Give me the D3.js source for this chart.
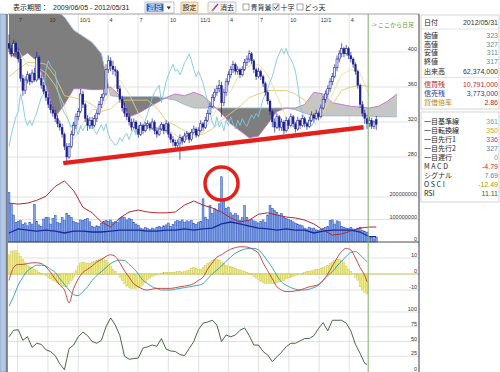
<!DOCTYPE html>
<html>
<head>
<meta charset="utf-8">
<script src="https://cdn.jsdelivr.net/npm/d3@7"></script>
<style>
body{margin:0;background:#fff;}
svg{display:block;font-family:"Liberation Sans","Noto Sans CJK JP",sans-serif;}
</style>
</head>
<body>
<svg id="chart" width="500" height="372"></svg>
<script>
// ---- data (weekly from 2009/06/05, last 4 rows daily) ----
var startDate = new Date(2009, 5, 5);
var tickDates = ["2009-07-01","2009-10-01","2010-01-01","2010-04-01","2010-07-01","2010-10-01",
                 "2011-01-01","2011-04-01","2011-07-01","2011-10-01","2012-01-01","2012-04-01"];
var tickLabels = ["7","10","10/1","4","7","10","11/1","4","7","10","12/1","4"];

// open, high, low, close
var ohlc = [
[410,420,400,404],[404,408,394,398],[398,414,396,410],[410,412,396,400],[400,404,388,392],
[392,394,366,370],[370,374,350,356],[356,372,352,368],[368,378,364,374],[374,376,362,366],
[366,380,364,376],[376,382,366,368],[368,400,366,394],[394,396,368,370],[370,374,358,362],
[362,366,352,355],[355,358,344,348],[348,352,336,340],[340,344,330,334],[334,338,326,330],
[330,334,320,324],[324,328,314,318],[318,322,310,314],[314,318,302,306],[306,308,288,292],
[292,296,274,280],[280,296,278,292],[292,310,290,306],[306,320,304,316],[316,330,312,326],
[326,336,322,332],[332,358,330,352],[352,356,336,340],[340,342,320,324],[324,328,310,316],
[316,326,312,322],[322,326,312,316],[316,328,314,324],[324,334,320,330],[330,344,328,340],
[340,352,336,348],[348,358,344,352],[352,386,350,380],[380,396,376,390],[390,394,378,384],
[384,390,374,380],[380,384,372,378],[378,380,354,358],[358,362,342,346],[346,350,332,336],
[336,342,326,330],[330,336,322,326],[326,330,316,320],[320,324,310,314],[314,324,312,320],
[320,322,308,312],[312,316,302,306],[306,320,304,316],[316,318,306,310],[310,320,308,316],
[316,322,312,318],[318,320,310,313],[313,324,311,320],[320,322,306,310],[310,314,302,306],
[306,316,304,312],[312,320,310,317],[317,318,306,310],[310,322,308,318],[318,320,302,306],
[306,308,296,300],[300,304,292,297],[297,300,288,293],[293,300,290,296],[296,306,277,302],
[302,304,294,298],[298,308,296,304],[304,310,300,307],[307,308,296,300],[300,312,298,308],
[308,316,306,312],[312,314,302,305],[305,314,303,310],[310,322,308,318],[318,320,310,314],
[314,326,312,322],[322,334,320,330],[330,342,328,338],[338,352,336,348],[348,358,344,354],
[354,362,350,358],[358,368,354,362],[362,366,326,342],[342,358,338,354],[354,370,350,366],
[366,378,362,374],[374,384,370,380],[380,390,376,386],[386,388,374,378],[378,384,374,380],
[380,382,370,374],[374,384,372,380],[380,392,378,388],[388,396,384,392],[392,402,388,398],
[398,400,386,390],[390,392,376,380],[380,382,368,372],[372,382,370,378],[378,380,368,372],
[372,374,360,364],[364,366,350,354],[354,356,340,344],[344,346,328,332],[332,334,314,320],
[320,324,308,314],[314,330,312,326],[326,328,310,314],[314,324,310,320],[320,322,306,310],
[310,326,308,322],[322,324,312,316],[316,330,314,326],[326,328,314,318],[318,320,308,312],
[312,326,310,322],[322,324,312,316],[316,328,314,324],[324,326,314,318],[318,320,311,315],
[315,326,313,322],[322,332,320,328],[328,330,320,324],[324,334,322,330],[330,332,322,326],
[326,340,324,336],[336,350,334,346],[346,356,342,352],[352,362,348,358],[358,370,354,366],
[366,376,362,372],[372,386,370,382],[382,396,378,392],[392,402,388,398],[398,410,394,404],
[404,406,394,398],[398,408,396,404],[404,406,392,396],[396,400,388,392],[392,394,382,386],
[386,388,374,378],[378,380,358,362],[362,364,336,340],[340,344,326,330],[330,334,318,324],
[324,328,312,318],
[318,326,314,322],[322,325,312,315],[315,322,312,320],[323,327,311,317]
];
var weeklyCount = 156;

// volume, millions of shares
var volume = [
220,170,120,88,92,95,78,85,72,88, 80,168,92,76,70,102,110,108,80,104,
118,88,84,110,96,126,118,110,92,86, 84,98,96,100,104,90,70,66,72,68,
84,92,96,92,98,86,90,88,104,112, 108,98,104,100,86,80,74,62,58,64,
60,56,62,58,66,70,64,72,76,84, 70,78,90,96,92,98,88,94,90,96,
82,78,86,92,192,110,100,162,128,148, 140,170,290,185,150,155,130,120,126,118,
96,108,162,110,96,100,94,90,84,92, 98,86,120,162,150,140,132,120,126,110,
104,100,96,90,84,80,76,72,62,58, 66,60,62,54,52,56,60,64,70,96,
98,80,94,90,70,66,62,60,64,58, 56,62,66,52,48,44,
18,22,14,20
];

// margin balances, millions of shares (every 4 weeks + last day)
var marginBuy = [28,27.3,28,30,33,40,44,37,25,21, 14.4,10.8,17.3,21.6,23,21.6,21,21,21.6,26.6,
                 29.5,26.6,24.5,21.6,17.3,14.4,15.8,20,21,19.4, 18,17.3,15.8,13,8.6,5,5.8,7.9,10,10.8, 10.79];
var marginSell = [6.5,9.4,8.6,7.9,8.6,7.9,6.5,7.9,7.9,7.2, 7.2,7.9,8.6,8.6,8.6,7.9,7.9,8.6,8.6,9.4,
                  8.6,9.4,10,13,14.4,13,11.5,10,9.4,8.6, 9.4,8.6,8.6,6.5,7.9,8.6,8.6,8.6,7.2,3.8, 3.77];

// ichimoku (every 4 weeks)
var tenkan = [395,402,385,383,376,362,338,300,318,334, 335,355,368,352,330,316,313,312,305,300,
              302,308,326,344,355,376,384,386,374,350, 325,320,320,322,330,352,374,380,376,350];
var kijun = [372,380,388,388,386,372,350,348,345,340, 332,335,345,345,345,345,336,322,316,310,
             305,306,312,322,330,338,348,352,356,356, 356,352,345,330,330,340,356,360,362,361];
// leading spans, already shifted forward
var senkouA = [398,392,399,390,362,326,340,358,358,357, 357,360,350,326,330,336,342,348,352,350,
               354,350,340,330,318,310,302,304,318,332, 336,336,340,354,352,342,340,338,337,336,
               338,344,352];
var senkouB = [450,450,452,452,450,448,440,425,418,411, 398,350,349,349,349,349,349,347,345,340,
               336,336,336,336,336,336,336,336,336,336, 336,334,330,327,327,327,327,327,327,327,
               326,326,326];

// MACD / signal / RSI (every 2 weeks + last week)
var macd = [-4,4,6,6,6.5,7,7,6.5,4.5,1, -3,-7,-10,-18,-9,-3,1,3,5,7.5,
            9,11,12,11,7,2,-2,-6,-8,-9.5, -10,-9.5,-9,-9,-9,-9,-8.5,-8,-7.5,-7,
            -6,-4,-2,3,7,10.5,12,14,15.5,16.5, 17,17,16.5,15,13,7,2,-3,-8,-10,
            -11,-11,-10.5,-10,-9,-8,-7.5,-6.5,-4,0, 5,10,14,16,15,10,4,-1,-4.79];
var signal = [-20,-14,-7,-2,2,4,5.5,5.5,5,3, 1,-3,-6.5,-10,-13,-13.5,-11,-8,-4,-1,
              1.5,4,6.5,8,8.7,8.5,6,3.5,0,-4, -6,-8,-9,-10,-10,-10,-9.5,-9,-8.5,-8,
              -7.5,-7,-6,-3,0,2.5,5,8,10.6,13, 14.5,15.5,16,16,15,12,8,4,-1,-5,
              -7,-8.5,-9.5,-10,-10,-9.5,-8.5,-7,-4,-1, 1.5,5,8,11,13.5,14,12,9,7.69];
var osci = [12,14,14.5,14.5,13,11,9,7,5.5, 4.5,4,3,2, 1,0.5,0,-1, -2,-3,-4,-4.5,
            -5.5,-6.5,-7.5,-8,-8, -6,-4,-2, 2,5,7,7.5,7, 6.5,6.5,7.5, 8,8.5,9,9.5,9.5,
            8.5,7,5,3, 1.5,0,-2, -4,-6,-7.5,-8.5,-9, -9,-9,-8.5,-8,-6.5, -5,-3.5,-2.5,-1.5,-1,
            -0.5,0,0.5,0.8,1,1,1, 1,1.2,1.5,1.5,1.2, 1.5,2,2.5,3.5,4, 3.5,3,3,4, 5.5,6.5,7.5,8.5,
            9,9,8.5,7.5, 6.5,5.5,5,4.5,4, 3.5,3,2.5,2,1.5, 1,0.5,-0.5,-1.5,-2.5, -3.5,-4.5,-5.5,-6,
            -6,-6,-6,-6,-5.5, -5,-4.5,-4,-3,-2.5, -2,-1.5,-1,-0.5,0, 0.5,1,1.5,1.5,2,
            2.5,3,3,3.5,4, 4.5,5.5,6.5,7.5,8.5, 9,9,8.5,7,5, 3,1.5,0,-2,-4, -8,-10,-11.5,-12.49];
var rsi = [58,69,70,52,58,40,47,45,36,33, 26,12,2,38,44,58,66,60,50,47,
           52,75,90,78,60,25,20,21,22,39, 41,44,42,55,37,34,33,28,26,38,
           50,70,81,83,86,78,50,61,58,61, 69,73,60,44,44,33,27,16,24,32,
           41,47,47,51,55,55,60,72,82,68, 86,86,86,81,68,45,30,13,11.11];

// trend line drawn on the chart (week, price)
var trendWeeks = [23.5, 153.5];
var trendPrices = [273, 314];
var markWeek = 92, markVolume = 260;

var infoTop = [["日付","2012/05/31"],["始値","323"],["高値","327"],["安値","311"],["終値","317"],["出来高","62,374,000"]];
var infoMargin = [["信買残","10,791,000"],["信売残","3,773,000"],["貸借倍率","2.86"]];
var infoTech = [["一目基準線","361"],["一目転換線","350"],["一目先行1","336"],["一目先行2","327"],["一目遅行","0"],
                ["MACD","-4.79"],["シグナル","7.69"],["OSCI","-12.49"],["RSI","11.11"]];

// ---- scales ----
var svg = d3.select("#chart");
var x = d3.scaleLinear().domain([0, 177.5]).range([9, 419]);
var yP = d3.scaleLinear().domain([280, 400]).range([157, 52]);
var yV = d3.scaleLinear().domain([0, 200]).range([242, 197]);
var yM = d3.scaleLinear().domain([0, 45]).range([242, 179.5]);
var yD = d3.scaleLinear().domain([-10, 10]).range([290, 258]);
var yR = d3.scaleLinear().domain([0, 100]).range([371, 312]);

var idx2 = d3.range(0, 156, 2).concat([155]);
var idx4 = d3.range(0, 157, 4);
var idxMargin = idx4.concat([159]);
var idxCloud = d3.range(0, 169, 4);
var weekOf = function(d) { return (d - startDate) / (7 * 864e5); };
var parse = d3.timeParse("%Y-%m-%d");
var pairs = function(idx, vals) { return idx.map(function(i, k) { return {i: i, v: vals[k]}; }); };

var plotL = 8, plotR = 419, plotT = 14, plotB = 372;
var jp = '"Noto Sans CJK JP","Liberation Sans",sans-serif';

// left strip
svg.append("rect").attr("x", 0).attr("y", 14).attr("width", 6).attr("height", 358)
  .attr("fill", "#b4c8e6").attr("stroke", "#7f98c0").attr("stroke-width", 0.7);

// ---- grid ----
var grid = svg.append("g").attr("stroke", "#d6d6d6").attr("stroke-width", 0.7);
tickDates.forEach(function(s) {
  var gx = x(weekOf(parse(s)));
  grid.append("line").attr("x1", gx).attr("x2", gx).attr("y1", plotT).attr("y2", plotB);
});
[400, 360, 320, 280].forEach(function(v) {
  grid.append("line").attr("x1", plotL).attr("x2", plotR).attr("y1", yP(v)).attr("y2", yP(v));
});
[200, 100].forEach(function(v) {
  grid.append("line").attr("x1", plotL).attr("x2", plotR).attr("y1", yV(v)).attr("y2", yV(v));
});
[10, -10].forEach(function(v) {
  grid.append("line").attr("x1", plotL).attr("x2", plotR).attr("y1", yD(v)).attr("y2", yD(v));
});
[100, 75, 50, 25].forEach(function(v) {
  grid.append("line").attr("x1", plotL).attr("x2", plotR).attr("y1", yR(v)).attr("y2", yR(v));
});

// ---- price panel ----
var defs = svg.append("defs");
defs.append("clipPath").attr("id", "plotClip").append("rect")
  .attr("x", plotL).attr("y", plotT).attr("width", plotR - plotL).attr("height", plotB - plotT);

var cloud = idxCloud.map(function(i, k) { return {i: i, a: senkouA[k], b: senkouB[k]}; });
defs.append("clipPath").attr("id", "aboveB").append("path")
  .attr("d", d3.area().x(function(d) { return x(d.i); }).y0(0).y1(function(d) { return yP(d.b); })(cloud));
defs.append("clipPath").attr("id", "belowB").append("path")
  .attr("d", d3.area().x(function(d) { return x(d.i); }).y0(function(d) { return yP(d.b); }).y1(400)(cloud));

var pg = svg.append("g").attr("clip-path", "url(#plotClip)");
var areaAB = d3.area().x(function(d) { return x(d.i); })
  .y0(function(d) { return yP(d.a); }).y1(function(d) { return yP(d.b); });
pg.append("path").attr("d", areaAB(cloud)).attr("fill", "#c6c6c6").attr("clip-path", "url(#aboveB)");
pg.append("path").attr("d", areaAB(cloud)).attr("fill", "#7e7e7e").attr("clip-path", "url(#belowB)");

var lineP = d3.line().x(function(d) { return x(d.i); }).y(function(d) { return yP(d.v); });
pg.append("path").attr("d", lineP(pairs(idxCloud, senkouB))).attr("fill", "none")
  .attr("stroke", "#9db4cc").attr("stroke-width", 0.9);
pg.append("path").attr("d", lineP(pairs(idxCloud, senkouA))).attr("fill", "none")
  .attr("stroke", "#c070c8").attr("stroke-width", 0.9);
pg.append("path").attr("d", lineP(pairs(idx4, kijun))).attr("fill", "none")
  .attr("stroke", "#e2c870").attr("stroke-width", 0.9);
pg.append("path").attr("d", lineP(pairs(idx4, tenkan))).attr("fill", "none")
  .attr("stroke", "#e8d890").attr("stroke-width", 0.8);
// lagging span: closes moved back 26 weeks
var chikou = ohlc.slice(26).map(function(r, k) { return {i: k, v: r[3]}; });
pg.append("path").attr("d", lineP(chikou)).attr("fill", "none")
  .attr("stroke", "#7cc8dc").attr("stroke-width", 0.9);

// candles
var navy = "#1b1f8e";
var cg = pg.append("g");
ohlc.forEach(function(r, i) {
  var cx = x(i), up = r[3] >= r[0];
  cg.append("line").attr("x1", cx).attr("x2", cx).attr("y1", yP(r[1])).attr("y2", yP(r[2]))
    .attr("stroke", navy).attr("stroke-width", 0.7);
  var yt = yP(Math.max(r[0], r[3])), yb = yP(Math.min(r[0], r[3]));
  cg.append("rect").attr("x", cx - 1).attr("y", yt).attr("width", 2).attr("height", Math.max(0.8, yb - yt))
    .attr("fill", up ? "#e8ecff" : navy).attr("stroke", navy).attr("stroke-width", up ? 0.55 : 0.2);
});

// trend line
pg.append("line").attr("x1", x(trendWeeks[0])).attr("y1", yP(trendPrices[0]))
  .attr("x2", x(trendWeeks[1])).attr("y2", yP(trendPrices[1]))
  .attr("stroke", "#e4201c").attr("stroke-width", 4.5);

// ---- volume panel ----
var vg = svg.append("g").attr("clip-path", "url(#plotClip)");
volume.forEach(function(v, i) {
  vg.append("rect").attr("x", x(i) - 0.95).attr("y", yV(v)).attr("width", 1.9).attr("height", yV(0) - yV(v))
    .attr("fill", "#84a7ea").attr("stroke", "#2b50ba").attr("stroke-width", 0.5);
});
var lineM = d3.line().x(function(d) { return x(d.i); }).y(function(d) { return yM(d.v); });
vg.append("path").attr("d", lineM(pairs(idxMargin, marginBuy))).attr("fill", "none")
  .attr("stroke", "#b8282c").attr("stroke-width", 1);
vg.append("path").attr("d", lineM(pairs(idxMargin, marginSell))).attr("fill", "none")
  .attr("stroke", "#1a2a9c").attr("stroke-width", 1.3);

// ---- MACD panel ----
var mg = svg.append("g").attr("clip-path", "url(#plotClip)");
mg.append("line").attr("x1", plotL).attr("x2", plotR).attr("y1", yD(0)).attr("y2", yD(0))
  .attr("stroke", "#bcb040").attr("stroke-width", 0.9);
osci.forEach(function(v, i) {
  mg.append("rect").attr("x", x(i) - 0.95).attr("y", Math.min(yD(v), yD(0)))
    .attr("width", 1.9).attr("height", Math.abs(yD(v) - yD(0)))
    .attr("fill", "#f2f08a").attr("stroke", "#c8c24a").attr("stroke-width", 0.45);
});
var lineD = d3.line().curve(d3.curveMonotoneX).x(function(d) { return x(d.i); }).y(function(d) { return yD(d.v); });
mg.append("path").attr("d", lineD(pairs(idx2, signal))).attr("fill", "none")
  .attr("stroke", "#2b98b4").attr("stroke-width", 0.9);
mg.append("path").attr("d", lineD(pairs(idx2, macd))).attr("fill", "none")
  .attr("stroke", "#c23a2e").attr("stroke-width", 0.9);

// ---- RSI panel ----
var lineR = d3.line().x(function(d) { return x(d.i); }).y(function(d) { return yR(d.v); });
svg.append("path").attr("clip-path", "url(#plotClip)").attr("d", lineR(pairs(idx2, rsi)))
  .attr("fill", "none").attr("stroke", "#2e5a2e").attr("stroke-width", 0.9);

// ---- frame ----
svg.append("line").attr("x1", plotL).attr("x2", plotR).attr("y1", plotT).attr("y2", plotT)
  .attr("stroke", "#8a8a8a").attr("stroke-width", 0.8);
svg.append("line").attr("x1", plotL).attr("x2", plotR).attr("y1", yV(0)).attr("y2", yV(0))
  .attr("stroke", "#4a4a4a").attr("stroke-width", 1);
svg.append("line").attr("x1", 7).attr("x2", 7).attr("y1", plotT).attr("y2", plotB)
  .attr("stroke", "#5a5a5a").attr("stroke-width", 1.4);
svg.append("line").attr("x1", plotR).attr("x2", plotR).attr("y1", plotT).attr("y2", plotB)
  .attr("stroke", "#3c3c3c").attr("stroke-width", 1);

// green line where daily bars start
var gx = x(weeklyCount - 0.5);
svg.append("line").attr("x1", gx).attr("x2", gx).attr("y1", plotT).attr("y2", plotB)
  .attr("stroke", "#7ab068").attr("stroke-width", 1);
svg.append("text").attr("x", gx + 3).attr("y", 27).attr("font-size", 6).attr("font-family", jp)
  .attr("fill", "#5d9a44").text("-> ここから日足");

// axis labels
var axisText = function(y, t) {
  svg.append("text").attr("x", 417).attr("y", y - 0.8).attr("text-anchor", "end")
    .attr("font-size", 5.5).attr("fill", "#333").text(t);
};
[400, 360, 320, 280].forEach(function(v) { axisText(yP(v), v); });
axisText(yV(200), "200000000"); axisText(yV(100), "100000000"); axisText(yV(0), "0");
[10, 0, -10].forEach(function(v) { axisText(yD(v), v); });
[100, 75, 50, 25, 0].forEach(function(v) { axisText(yR(v) + (v === 0 ? 1 : 0), v); });

tickDates.forEach(function(s, k) {
  svg.append("text").attr("x", x(weekOf(parse(s))) + 1.5).attr("y", 21.5)
    .attr("font-size", 5.5).attr("fill", "#333").text(tickLabels[k]);
});

// annotation circle
svg.append("circle").attr("cx", x(markWeek)).attr("cy", yV(markVolume)).attr("r", 16.5)
  .attr("fill", "none").attr("stroke", "#e4201c").attr("stroke-width", 3.5);

// ---- toolbar ----
var tb = svg.append("g").attr("font-family", jp).attr("font-size", 7).attr("fill", "#222");
tb.append("text").attr("x", 13).attr("y", 10).text("表示期間：");
tb.append("text").attr("x", 53).attr("y", 10).attr("font-family", "Liberation Sans").text("2009/06/05 - 2012/05/31");
tb.append("rect").attr("x", 145).attr("y", 2).attr("width", 29).attr("height", 11)
  .attr("fill", "#fff").attr("stroke", "#9a9a9a").attr("stroke-width", 0.6);
tb.append("rect").attr("x", 146.5).attr("y", 3.5).attr("width", 17).attr("height", 8).attr("fill", "#3166c4");
tb.append("text").attr("x", 148).attr("y", 10).attr("fill", "#fff").text("週足");
tb.append("path").attr("d", "M166.5,6.5 L171,6.5 L168.75,9.5 Z").attr("fill", "#333");
tb.append("rect").attr("x", 181).attr("y", 2).attr("width", 17).attr("height", 11).attr("rx", 1)
  .attr("fill", "#fbe8c6").attr("stroke", "#d6a460").attr("stroke-width", 0.7);
tb.append("text").attr("x", 182.5).attr("y", 10).text("設定");
tb.append("rect").attr("x", 208).attr("y", 2).attr("width", 28).attr("height", 11).attr("rx", 1)
  .attr("fill", "#f6f6f6").attr("stroke", "#b0b0b0").attr("stroke-width", 0.7);
tb.append("line").attr("x1", 212).attr("y1", 11).attr("x2", 218).attr("y2", 4)
  .attr("stroke", "#8a3fa8").attr("stroke-width", 1.4);
tb.append("line").attr("x1", 212).attr("y1", 11).attr("x2", 213.5).attr("y2", 9.3)
  .attr("stroke", "#e0902a").attr("stroke-width", 1.4);
tb.append("text").attr("x", 220).attr("y", 10).text("消去");
var checkBox = function(cx, checked) {
  tb.append("rect").attr("x", cx).attr("y", 4).attr("width", 6).attr("height", 6)
    .attr("fill", "#fff").attr("stroke", "#666").attr("stroke-width", 0.6);
  if (checked) tb.append("path").attr("d", "M" + (cx + 1) + ",7 L" + (cx + 2.6) + ",8.8 L" + (cx + 5.2) + ",5")
    .attr("fill", "none").attr("stroke", "#222").attr("stroke-width", 0.9);
};
checkBox(243, false); tb.append("text").attr("x", 250.5).attr("y", 10).text("青背景");
checkBox(273, true); tb.append("text").attr("x", 280.5).attr("y", 10).text("十字");
checkBox(297, false); tb.append("text").attr("x", 304.5).attr("y", 10).text("どっ天");

// ---- info panel ----
var ip = svg.append("g").attr("font-size", 7);
ip.append("rect").attr("x", 421).attr("y", 15).attr("width", 78).attr("height", 94)
  .attr("fill", "#fff").attr("stroke", "#b8b8b8").attr("stroke-width", 0.6);
ip.append("line").attr("x1", 421).attr("x2", 499).attr("y1", 29).attr("y2", 29).attr("stroke", "#d0d0d0").attr("stroke-width", 0.6);
ip.append("line").attr("x1", 421).attr("x2", 499).attr("y1", 77.5).attr("y2", 77.5).attr("stroke", "#d0d0d0").attr("stroke-width", 0.6);
ip.append("rect").attr("x", 421).attr("y", 112).attr("width", 78).attr("height", 90)
  .attr("fill", "#fff").attr("stroke", "#b8b8b8").attr("stroke-width", 0.6);

var topY = [24.5, 38, 46.5, 55, 63.5, 73.5];
var topColors = ["#333", "#5b8f8f", "#5b8f8f", "#5b8f8f", "#5b8f8f", "#333"];
infoTop.forEach(function(r, k) {
  ip.append("text").attr("x", 424).attr("y", topY[k]).attr("font-family", jp).attr("fill", "#222").text(r[0]);
  ip.append("text").attr("x", 498).attr("y", topY[k]).attr("text-anchor", "end").attr("fill", topColors[k]).text(r[1]);
});
var marginLabelColors = ["#c0282c", "#2a3a9c", "#b88a10"];
var marginValueColors = ["#c0282c", "#2a3a9c", "#9c2a2a"];
infoMargin.forEach(function(r, k) {
  var yy = 87 + k * 9;
  ip.append("text").attr("x", 424).attr("y", yy).attr("font-family", jp).attr("fill", marginLabelColors[k]).text(r[0]);
  ip.append("text").attr("x", 498).attr("y", yy).attr("text-anchor", "end").attr("fill", marginValueColors[k]).text(r[1]);
});
var techColors = ["#5ab0b0", "#c8ac3a", "#a844a8", "#4a86ac", "#5ab0b0", "#c0282c", "#2a9cac", "#a89a10", "#2e6a2e"];
infoTech.forEach(function(r, k) {
  var yy = 123.5 + k * 9;
  var spaced = (r[0] === "MACD" || r[0] === "OSCI");
  ip.append("text").attr("x", 424).attr("y", yy).attr("font-family", jp).attr("fill", "#222")
    .attr("letter-spacing", spaced ? 1.6 : 0).text(r[0]);
  ip.append("text").attr("x", 498).attr("y", yy).attr("text-anchor", "end").attr("fill", techColors[k]).text(r[1]);
});
</script>
</body>
</html>
